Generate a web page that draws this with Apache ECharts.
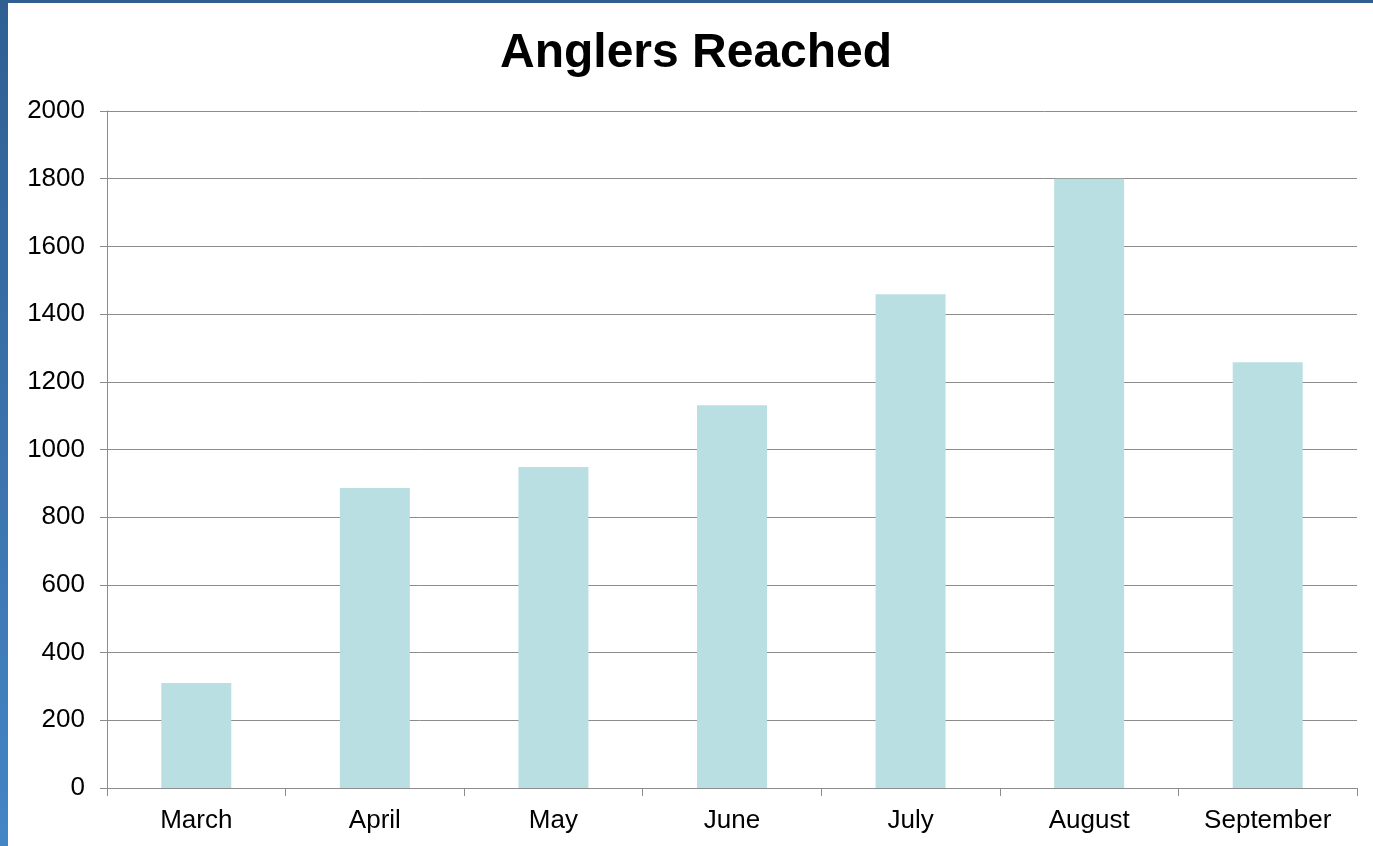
<!DOCTYPE html>
<html>
<head>
<meta charset="utf-8">
<script src="https://cdn.jsdelivr.net/npm/echarts@6/dist/echarts.min.js"></script>
<style>
  html, body { margin: 0; padding: 0; width: 1373px; height: 846px; overflow: hidden;
    background: linear-gradient(to bottom, #2f5f92 0%, #3a72ab 50%, #4485c6 100%); }
  #chart { position: absolute; left: 8px; top: 3px; width: 1365px; height: 843px; background: #ffffff; }
</style>
</head>
<body>
<div id="chart"></div>
<script>
const titleText = "Anglers Reached";
const categories = ["March", "April", "May", "June", "July", "August", "September"];
const anglers = [310, 886, 948, 1131, 1459, 1800, 1258];
const yMin = 0, yMax = 2000, yStep = 200;

const chart = echarts.init(document.getElementById('chart'), null, { renderer: 'canvas' });
chart.setOption({
  animation: false,
  backgroundColor: '#ffffff',
  title: {
    text: titleText,
    left: 487,
    top: 22,
    textStyle: { fontFamily: 'Liberation Sans, Arial, sans-serif', fontSize: 48, fontWeight: 'bold', color: '#000000' }
  },
  grid: { left: 99, right: 16, top: 108, bottom: 58, containLabel: false },
  xAxis: {
    type: 'category',
    data: categories,
    axisLine: { show: true, lineStyle: { color: '#8c8c8c', width: 1 } },
    axisTick: { show: true, length: 8, alignWithLabel: false, lineStyle: { color: '#8c8c8c' } },
    axisLabel: { fontFamily: 'Liberation Sans, Arial, sans-serif', fontSize: 26, color: '#000000', margin: 20 },
    splitLine: { show: false }
  },
  yAxis: {
    type: 'value',
    min: yMin, max: yMax, interval: yStep,
    axisLine: { show: true, lineStyle: { color: '#8c8c8c', width: 1 } },
    axisTick: { show: true, length: 7, inside: false, lineStyle: { color: '#8c8c8c' } },
    axisLabel: { fontFamily: 'Liberation Sans, Arial, sans-serif', fontSize: 26, color: '#000000', margin: 22,
      formatter: function (v) { return String(v); } },
    splitLine: { show: true, lineStyle: { color: '#8c8c8c', width: 1 } }
  },
  series: [{
    type: 'bar',
    data: anglers,
    barWidth: 70,
    itemStyle: { color: '#badfe2' }
  }]
});
</script>
</body>
</html>
